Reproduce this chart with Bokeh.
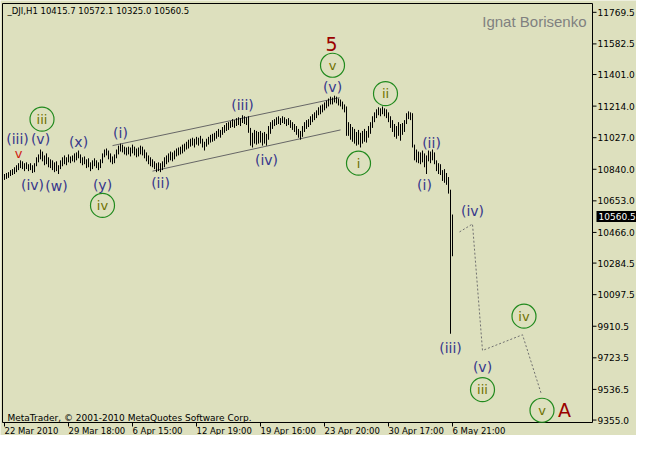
from bokeh.plotting import figure
from bokeh.models import ColumnDataSource, Range1d
from bokeh.core.properties import value
from bokeh.embed import file_html
from bokeh.resources import INLINE

# ---------------- data ----------------
symbol_header = "_DJI,H1  10415.7 10572.1 10325.0 10560.5"
author = "Ignat Borisenko"
footer = "MetaTrader, \u00a9 2001-2010 MetaQuotes Software Corp."

highs = [
    10812, 10818, 10823, 10835, 10841, 10852, 10864, 10876, 10893, 10887,
    10876, 10881, 10870, 10876, 10864, 10876, 10911, 10928, 10957, 10945,
    10922, 10934, 10911, 10899, 10893, 10881, 10887, 10864, 10893, 10911,
    10922, 10911, 10928, 10916, 10922, 10934, 10940, 10951, 10928, 10911,
    10916, 10899, 10905, 10881, 10893, 10905, 10893, 10881, 10899, 10934,
    10957, 10963, 10951, 10934, 10916, 10928, 10957, 10980, 10992, 10986,
    10974, 10969, 10974, 10969, 10986, 10974, 10963, 10969, 10980, 10974,
    10957, 10940, 10922, 10911, 10899, 10887, 10876, 10881, 10876, 10887,
    10911, 10922, 10934, 10945, 10940, 10951, 10963, 10969, 10974, 10986,
    10992, 11003, 11015, 11021, 11027, 11021, 11032, 11027, 11038, 11021,
    11003, 11021, 11032, 11044, 11050, 11056, 11067, 11079, 11073, 11090,
    11102, 11114, 11119, 11125, 11137, 11131, 11143, 11148, 11143, 11160,
    11154, 11148, 11154, 11085, 11056, 11073, 11067, 11061, 11067, 11056,
    11061, 11050, 11096, 11119, 11131, 11137, 11148, 11154, 11143, 11154,
    11148, 11137, 11143, 11131, 11119, 11108, 11096, 11079, 11067, 11096,
    11119, 11131, 11137, 11154, 11166, 11177, 11189, 11207, 11218, 11224,
    11236, 11247, 11259, 11270, 11265, 11276, 11270, 11259, 11253, 11241,
    11224, 11212, 11119, 11108, 11090, 11079, 11061, 11073, 11056, 11067,
    11079, 11067, 11096, 11119, 11154, 11177, 11195, 11207, 11201, 11212,
    11201, 11195, 11177, 11154, 11131, 11108, 11096, 11119, 11108, 11114,
    11131, 11172, 11183, 11177, 11172, 10986, 10957, 10945, 10940, 10951,
    10934, 10922, 10951, 10945, 10957, 10940, 10893, 10876, 10870, 10835,
    10841, 10818, 10794, 10719, 10572.1,
]
lows = [
    10777, 10783, 10789, 10800, 10806, 10812, 10823, 10835, 10847, 10841,
    10829, 10841, 10829, 10835, 10818, 10823, 10858, 10881, 10899, 10887,
    10864, 10870, 10852, 10847, 10835, 10823, 10829, 10812, 10841, 10858,
    10870, 10864, 10881, 10876, 10887, 10881, 10893, 10905, 10876, 10864,
    10870, 10847, 10852, 10829, 10841, 10858, 10847, 10835, 10847, 10876,
    10911, 10922, 10899, 10881, 10870, 10876, 10905, 10928, 10945, 10940,
    10928, 10922, 10928, 10916, 10934, 10922, 10911, 10916, 10928, 10922,
    10905, 10887, 10870, 10858, 10852, 10841, 10823, 10829, 10823, 10835,
    10852, 10870, 10881, 10893, 10887, 10899, 10916, 10922, 10928, 10934,
    10945, 10957, 10963, 10974, 10980, 10969, 10986, 10980, 10992, 10969,
    10951, 10974, 10986, 10998, 11003, 11009, 11021, 11032, 11027, 11044,
    11056, 11067, 11073, 11085, 11090, 11085, 11096, 11102, 11096, 11114,
    11108, 11102, 11056, 10980, 10969, 10992, 10986, 10992, 10998, 10980,
    10992, 10980, 11015, 11050, 11079, 11096, 11102, 11108, 11102, 11114,
    11108, 11096, 11102, 11085, 11073, 11061, 11044, 11027, 11015, 11032,
    11061, 11079, 11090, 11102, 11119, 11131, 11143, 11160, 11166, 11177,
    11189, 11201, 11212, 11224, 11224, 11236, 11230, 11218, 11212, 11195,
    11177, 11038, 11038, 11015, 11003, 10992, 10980, 10986, 10969, 10992,
    11003, 10998, 11027, 11050, 11085, 11119, 11143, 11160, 11154, 11166,
    11154, 11143, 11119, 11085, 11061, 11032, 11021, 11038, 11009, 11044,
    11061, 11108, 11137, 11131, 10969, 10893, 10881, 10876, 10870, 10881,
    10852, 10812, 10887, 10876, 10893, 10870, 10829, 10812, 10806, 10771,
    10760, 10748, 10696, 9866, 10325.0,
]
last_price = 10560.5

x_tick_index = [0, 32, 64, 96, 128, 160, 192, 224]
x_tick_labels = ["22 Mar 2010", "29 Mar 18:00", "6 Apr 15:00", "12 Apr 19:00",
                 "19 Apr 16:00", "23 Apr 20:00", "30 Apr 17:00", "6 May 21:00"]
y_tick_labels = ["9355.0", "9536.5", "9723.5", "9910.5", "10097.5", "10284.5", "10466.0",
                 "10653.0", "10840.0", "11027.0", "11214.0", "11401.0", "11582.5", "11769.5"]

# Elliott wave labels (bar index, price)
minor_text = ["(iii)", "(v)", "(iv)", "(w)", "(x)", "(y)", "(i)", "(ii)", "(iii)", "(iv)",
              "(v)", "(ii)", "(i)", "(iv)", "(iii)", "(v)"]
minor_x = [6.5, 18, 14, 26, 37, 49, 58, 78, 119, 131, 164, 213.5, 210, 234, 223, 239]
minor_y = [11021, 11021, 10748, 10742, 11003, 10748, 11056, 10760, 11218, 10893,
           11328, 10998, 10748, 10591, 9779, 9668]

circle_text = ["iii", "iv", "v", "ii", "i", "iv", "iii", "v"]
circle_x = [18.75, 49, 164, 190.5, 177, 259.75, 239, 268.75]
circle_y = [11137, 10626, 11456, 11288, 10876, 9970, 9535, 9413]

major_text = ["5", "A"]
major_x = [163.5, 280]
major_y = [11584, 9413]

sub_text = ["v"]
sub_x = [7]
sub_y = [10934]

channel_x0 = [54, 74]
channel_y0 = [10980, 10829]
channel_x1 = [167.5, 168]
channel_y1 = [11264, 11073]

proj_x = [227.5, 234, 239, 259, 268.5]
proj_y = [10469, 10516, 9767, 9860, 9506]

# ---------------- layout ----------------
BG = "#dde0be"
FONT = "DejaVu Sans"
W, H = 636, 435
PX_PER_BAR = 2.0
X_START = -2.0
X_END = X_START + W / PX_PER_BAR
CL, CR = -1.0, 294.0            # chart frame (bar-index units)
CT, CB = 11821.7, 9340.5        # chart frame (price units)
TOP_PX, BOT_PX = 3.0, 422.0
PRICE_PER_PX = (CT - CB) / (BOT_PX - TOP_PX)
Y_END = CT + TOP_PX * PRICE_PER_PX
Y_START = Y_END - H * PRICE_PER_PX
TICK_X = 4 / PX_PER_BAR          # 4 px in bar units
TICK_Y = 4 * PRICE_PER_PX        # 4 px in price units

p = figure(width=W, height=H, output_backend="svg", toolbar_location=None,
           x_range=Range1d(X_START, X_END), y_range=Range1d(Y_START, Y_END),
           x_axis_location=None, y_axis_location=None,
           min_border=0, background_fill_color=BG, border_fill_color=BG,
           outline_line_color=None)
p.grid.visible = False

idx = list(range(len(highs)))
bars = ColumnDataSource(dict(x=idx, lo=lows, hi=highs))

# chart frame
p.quad(left=[CL], right=[CR], bottom=[CB], top=[CT], fill_color=None,
       line_color="black", line_width=1)

# price scale (right)
y_ticks = [float(s) for s in y_tick_labels]
p.segment(x0=[CR] * len(y_ticks), y0=y_ticks, x1=[CR + TICK_X] * len(y_ticks), y1=y_ticks,
          line_color="black", line_width=1)
p.text(x=[CR] * len(y_ticks), y=y_ticks, text=y_tick_labels, x_offset=5,
       text_font=value(FONT), text_font_size=value("9px"), text_color="black",
       text_align="left", text_baseline="middle")
p.text(x=[CR], y=[last_price], text=[f"{last_price:.1f}"], x_offset=4,
       text_font=value(FONT), text_font_size=value("9px"), text_color="white",
       text_align="left", text_baseline="middle",
       background_fill_color="black", padding=2)

# time scale (bottom)
p.segment(x0=x_tick_index, y0=[CB] * len(x_tick_index), x1=x_tick_index,
          y1=[CB - TICK_Y] * len(x_tick_index), line_color="black", line_width=1)
p.text(x=x_tick_index, y=[CB] * len(x_tick_index), text=x_tick_labels, x_offset=0, y_offset=3,
       text_font=value(FONT), text_font_size=value("8.5px"), text_color="black",
       text_align="left", text_baseline="top")

# channel lines
p.segment(x0=channel_x0, y0=channel_y0, x1=channel_x1, y1=channel_y1,
          line_color="#666666", line_width=1)

# projection
p.line(proj_x, proj_y, line_color="#707070", line_width=1, line_dash="2 2")

# OHLC bars (high-low)
p.segment(x0="x", y0="lo", x1="x", y1="hi", source=bars, line_color="black", line_width=1)

# wave labels
p.text(x=minor_x, y=minor_y, text=minor_text, text_color="#36368c",
       text_font=value(FONT), text_font_size=value("14px"),
       text_align="center", text_baseline="middle")
p.scatter(x=circle_x, y=circle_y, marker="circle", size=24, fill_color=None,
          line_color="#218a1e", line_width=1.2)
p.text(x=circle_x, y=circle_y, text=circle_text, text_color="#6e7000",
       text_font=value(FONT), text_font_size=value("13px"),
       text_align="center", text_baseline="middle")
p.text(x=major_x, y=major_y, text=major_text, text_color="#9a0000",
       text_font=value(FONT), text_font_size=value("19px"),
       text_align="center", text_baseline="middle")
p.text(x=sub_x, y=sub_y, text=sub_text, text_color="#d01a10",
       text_font=value(FONT), text_font_size=value("13px"),
       text_align="center", text_baseline="middle")

# header / author / footer
p.text(x=[CL], y=[CT], text=[symbol_header], x_offset=5, y_offset=7,
       text_font=value(FONT), text_font_size=value("8.5px"), text_color="black",
       text_align="left", text_baseline="middle")
p.text(x=[CR], y=[CT], text=[author], x_offset=-6, y_offset=18,
       text_font=value("Liberation Sans"), text_font_size=value("15px"), text_color="#808080",
       text_align="right", text_baseline="middle")
p.text(x=[CL], y=[CB], text=[footer], x_offset=5, y_offset=-5,
       text_font=value(FONT), text_font_size=value("9px"), text_color="black",
       text_align="left", text_baseline="middle")

open("out.html", "w").write(file_html(p, INLINE))
